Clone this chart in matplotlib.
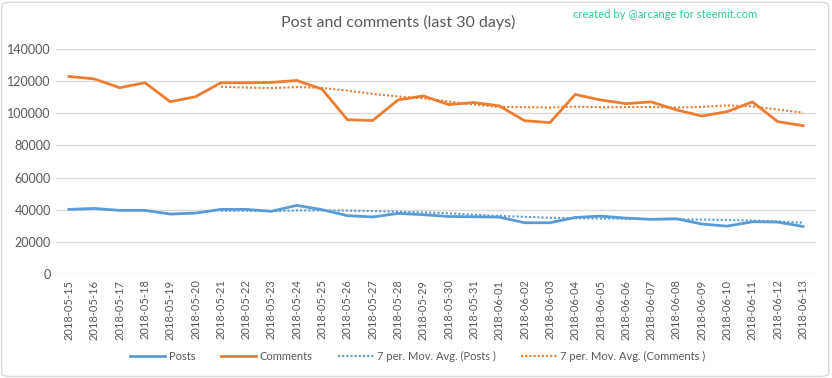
import numpy as np
import pandas as pd
import matplotlib.pyplot as plt
from matplotlib.patches import FancyBboxPatch

plt.rcParams['font.family'] = ['Lato', 'DejaVu Sans']

dates = pd.date_range('2018-05-15', '2018-06-13').strftime('%Y-%m-%d').tolist()
posts = [40200, 40800, 39600, 39600, 37300, 37900, 40200, 40200, 39000, 42700,
         40000, 36300, 35500, 37700, 36900, 35800, 35600, 35400, 31900, 31900,
         35200, 36000, 34800, 34000, 34400, 31100, 29800, 32500, 32300, 29600]
comments = [122900, 121400, 115900, 119000, 107200, 110300, 119000, 119000, 119200, 120400,
            115000, 96000, 95500, 108300, 110800, 105400, 106700, 104600, 95400, 94200,
            111700, 108300, 106000, 107100, 102100, 98300, 101000, 107100, 94800, 92300]

blue = '#5b9bd5'
orange = '#ed7d31'
grey = '#595959'

# 7-period moving averages, as the trendlines in the original
posts_ma = pd.Series(posts).rolling(7).mean()
comments_ma = pd.Series(comments).rolling(7).mean()
x = np.arange(len(dates))

fig = plt.figure(figsize=(8.32, 3.78), dpi=100)
ax = fig.add_axes([0.0677, 0.2751, 0.9127, 0.5953])

ax.plot(x, posts, color=blue, lw=2, label='Posts')
ax.plot(x, comments, color=orange, lw=2, label='Comments')
ax.plot(x, posts_ma, color=blue, lw=1.5, ls=(0, (1, 1)), label='7 per. Mov. Avg. (Posts )')
ax.plot(x, comments_ma, color=orange, lw=1.5, ls=(0, (1, 1)), label='7 per. Mov. Avg. (Comments )')

ax.set_xlim(-0.5, len(dates) - 0.5)
ax.set_ylim(0, 140000)
ax.set_yticks(range(0, 140001, 20000))
ax.set_yticklabels([str(v) for v in range(0, 140001, 20000)], fontsize=9, color=grey)
ax.set_xticks(x)
ax.set_xticklabels(dates, rotation=90, fontsize=8, color=grey)
ax.tick_params(length=0, pad=4)
ax.grid(axis='y', color='#d9d9d9', lw=1)
ax.set_axisbelow(True)
for s in ax.spines.values():
    s.set_visible(False)

fig.text(0.479, 0.94, 'Post and comments (last 30 days)', ha='center', va='center',
         fontsize=11.5, color=grey)
fig.text(0.80, 0.962, 'created by @arcange for steemit.com', ha='center', va='center',
         fontsize=8.1, color='#2ec99b')

fig.legend(loc='center', bbox_to_anchor=(0.502, 0.058), ncol=4, frameon=False,
           fontsize=8, handlelength=3.2, handletextpad=0.3, columnspacing=2.3,
           labelcolor=grey)

fig.patches.append(FancyBboxPatch((0.002, 0.004), 0.994, 0.99, boxstyle='round,pad=0,rounding_size=0.01',
                                  transform=fig.transFigure, fill=False, ec='#d9d9d9', lw=1))

fig.savefig('out.png', dpi=100)
